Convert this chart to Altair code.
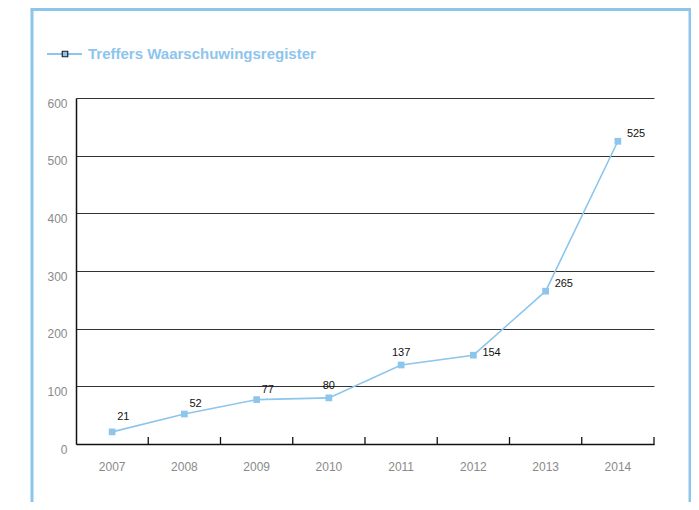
import altair as alt
import pandas as pd

years = ["2007", "2008", "2009", "2010", "2011", "2012", "2013", "2014"]
hits = [21, 52, 77, 80, 137, 154, 265, 525]
series_name = "Treffers Waarschuwingsregister"
y_ticks = [0, 100, 200, 300, 400, 500, 600]

BLUE = "#8dc5ec"
W, H = 578, 346

df = pd.DataFrame({"year": years, "hits": hits})
df["label"] = df["hits"].astype(str)

xenc = alt.X("year:O", bandPosition=0.5,
             scale=alt.Scale(type="band", paddingInner=0, paddingOuter=0),
             axis=alt.Axis(title=None, ticks=False, domainColor="#111", domainWidth=1.5,
                           labelColor="#8a8a8a", labelFontSize=12, labelAngle=0,
                           labelPadding=17, labelFont="Liberation Sans"))
yenc = alt.Y("hits:Q", scale=alt.Scale(domain=[0, 600]),
             axis=alt.Axis(title=None, values=y_ticks, ticks=False, grid=True,
                           gridColor="#333", gridWidth=1, gridOpacity=1,
                           domainColor="#111", domainWidth=1.5,
                           labelColor="#8a8a8a", labelFontSize=12, labelPadding=9,
                           labelOffset=5, labelFont="Liberation Sans"))

base = alt.Chart(df)

line = base.mark_line(color=BLUE, strokeWidth=1.6).encode(x=xenc, y=yenc)
pts = base.mark_point(shape="square", filled=True, color=BLUE, size=45, opacity=1).encode(
    x=alt.X("year:O", bandPosition=0.5), y="hits:Q")


def label_layer(sel, align, dx, dy):
    return base.transform_filter(
        alt.FieldOneOfPredicate(field="year", oneOf=sel)
    ).mark_text(align=align, baseline="middle", dx=dx, dy=dy, fontSize=11,
                font="Liberation Sans", color="#111").encode(
        x=alt.X("year:O", bandPosition=0.5), y="hits:Q", text="label:N")


lab_a = label_layer(["2007"], "left", 5, -15)
lab_a2 = label_layer(["2008", "2009"], "left", 5, -10)
lab_b = label_layer(["2010", "2011"], "center", 0, -12)
lab_c = label_layer(["2012"], "left", 9, -2)
lab_d = label_layer(["2013", "2014"], "left", 9, -7)

ticks = base.transform_filter(alt.datum.year != "2014").mark_rule(color="#111", strokeWidth=1.3).encode(
    x=alt.X("year:O", bandPosition=1), y=alt.value(H - 7), y2=alt.value(H))
end_tick = base.transform_filter(alt.datum.year == "2014").mark_rule(color="#111", strokeWidth=1.3).encode(
    x=alt.value(W), y=alt.value(H - 7), y2=alt.value(H))

legend_df = pd.DataFrame({"name": [series_name]})
lbase = alt.Chart(legend_df)
leg_line = lbase.mark_rule(color=BLUE, strokeWidth=2).encode(
    x=alt.value(-29), x2=alt.value(6), y=alt.value(-44))
leg_sq = lbase.mark_point(shape="square", filled=True, fill=BLUE, stroke="#222",
                          strokeWidth=1.2, size=30, opacity=1).encode(
    x=alt.value(-11), y=alt.value(-44))
leg_txt = lbase.mark_text(align="left", baseline="middle", fontSize=15, fontWeight="bold",
                          font="Liberation Sans", color=BLUE).encode(
    x=alt.value(12), y=alt.value(-44), text="name:N")

frame_left = lbase.mark_rule(color=BLUE, strokeWidth=3).encode(
    x=alt.value(-44), y=alt.value(-88.5), y2=alt.value(420))
frame_top = lbase.mark_rule(color=BLUE, strokeWidth=3).encode(
    x=alt.value(-45.5), x2=alt.value(615.5), y=alt.value(-88.5))
frame_right = lbase.mark_rule(color=BLUE, strokeWidth=3).encode(
    x=alt.value(614), y=alt.value(-88.5), y2=alt.value(420))

chart = alt.layer(
    line, pts, lab_a, lab_a2, lab_b, lab_c, lab_d, ticks, end_tick,
    leg_line, leg_sq, leg_txt, frame_left, frame_top, frame_right
).properties(
    width=W, height=H,
    autosize=alt.AutoSizeParams(type="none"),
    padding={"left": 68, "top": 90, "right": 37, "bottom": 58},
    background="white",
).configure_view(strokeOpacity=0)

chart.save("out.html", embed_options={"renderer": "svg", "actions": False})
